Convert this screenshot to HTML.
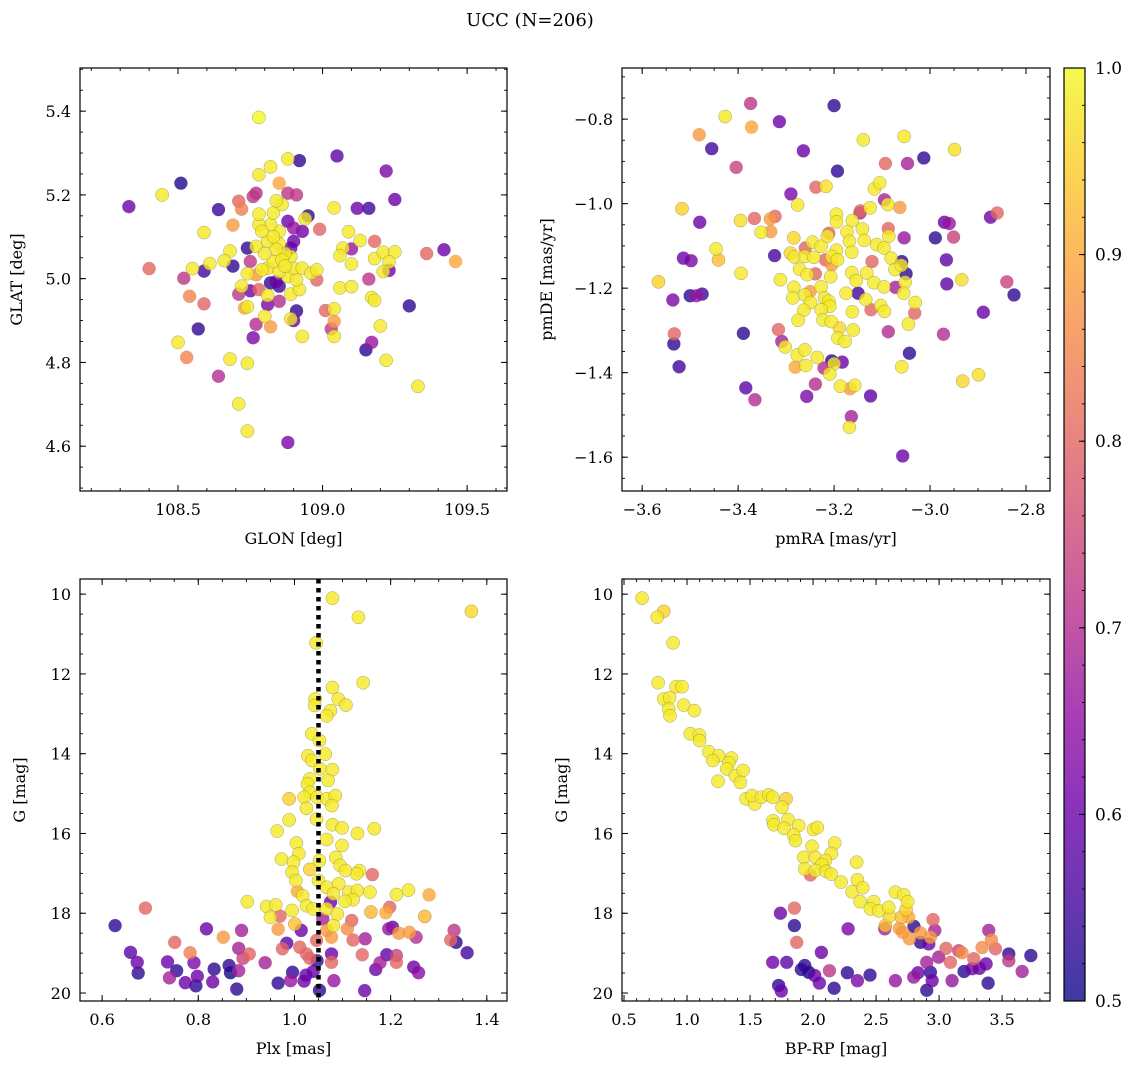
<!DOCTYPE html>
<html><head><meta charset="utf-8">
<style>
html,body{margin:0;padding:0;background:#fff;}
svg{display:block;font-family:"DejaVu Serif","Liberation Serif",serif;}
</style></head>
<body>
<svg id="fig" width="1136" height="1068" viewBox="0 0 1136 1068" xmlns="http://www.w3.org/2000/svg">
<text x="530" y="26" font-size="18" text-anchor="middle">UCC (N=206)</text>
</svg>
<script>
// ---------- DATA ----------
// panel 1: [GLON, GLAT, prob]
const posPoints = [
[108.78,5.385,1],[108.33,5.172,0.6],[108.445,5.20,0.98],[108.51,5.228,0.52],[108.40,5.024,0.8],[108.64,5.165,0.54],[108.59,5.11,0.98],[108.69,5.03,0.53],[108.59,5.018,0.55],[108.52,5.001,0.72],
[108.54,4.958,0.85],[108.59,4.94,0.8],[108.57,4.88,0.53],[108.50,4.848,0.98],[108.53,4.812,0.85],[108.64,4.767,0.7],[108.68,4.808,0.98],[108.74,4.798,0.98],[108.71,4.701,0.98],[108.74,4.636,0.98],
[108.88,4.609,0.62],[108.76,4.859,0.62],[108.77,4.891,0.7],[108.82,4.885,0.88],[108.80,4.91,0.98],[108.93,4.862,0.98],[108.89,4.904,0.98],[108.91,4.923,0.53],[108.90,4.90,0.6],[108.89,4.963,0.98],
[108.92,4.974,0.98],[108.81,4.96,0.98],[108.85,4.946,0.7],[108.81,4.938,0.62],[108.72,4.982,0.98],[108.71,4.963,0.72],[108.75,4.971,0.6],[108.74,4.933,0.98],[108.73,4.93,0.9],[108.78,4.974,0.8],
[108.82,4.99,0.53],[108.85,4.982,0.55],[108.84,4.993,0.6],[108.88,5.005,0.98],[108.91,4.997,0.98],[108.81,5.025,0.98],[108.85,5.017,0.98],[108.90,5.025,0.98],[108.79,5.021,0.98],[108.83,5.041,0.98],
[108.89,5.053,0.98],[108.93,5.025,0.98],[108.96,5.013,0.98],[108.98,5.021,0.98],[108.98,4.997,0.8],[108.74,5.012,0.98],[108.75,5.041,0.72],[108.77,5.009,0.88],[108.74,5.073,0.53],[108.77,5.077,0.98],
[108.81,5.089,0.98],[108.85,5.083,0.98],[108.89,5.073,0.6],[108.90,5.089,0.6],[108.90,5.121,0.66],[108.93,5.113,0.6],[108.88,5.137,0.6],[108.85,5.113,0.98],[108.82,5.129,0.98],[108.78,5.129,0.98],
[108.79,5.113,0.98],[108.78,5.154,0.98],[108.83,5.157,0.98],[108.86,5.177,0.98],[108.84,5.186,0.98],[108.85,5.228,0.9],[108.82,5.267,0.98],[108.78,5.248,0.98],[108.88,5.286,0.98],[108.92,5.282,0.53],
[109.05,5.293,0.58],[109.22,5.257,0.62],[109.25,5.189,0.6],[109.16,5.168,0.55],[109.12,5.168,0.6],[109.04,5.169,0.98],[108.88,5.204,0.72],[108.91,5.20,0.72],[108.77,5.204,0.7],[108.76,5.196,0.72],
[108.71,5.185,0.8],[108.72,5.166,0.84],[108.69,5.128,0.88],[108.68,5.066,0.98],[108.66,5.043,0.98],[108.61,5.036,0.98],[108.55,5.024,0.98],[108.95,5.15,0.53],[108.94,5.143,0.98],[108.99,5.118,0.8],
[109.09,5.112,0.98],[109.13,5.091,0.98],[109.18,5.089,0.8],[109.10,5.071,0.66],[109.07,5.073,0.98],[109.06,5.055,0.98],[109.10,5.035,0.98],[109.18,5.048,0.98],[109.21,5.063,0.98],[109.25,5.064,0.98],
[109.23,5.04,0.98],[109.23,5.02,0.6],[109.21,5.017,0.98],[109.36,5.06,0.8],[109.42,5.069,0.6],[109.46,5.041,0.9],[109.16,4.999,0.72],[109.06,4.978,0.98],[109.10,4.981,0.98],[109.17,4.955,0.98],
[109.18,4.948,0.98],[109.30,4.935,0.53],[109.01,4.924,0.8],[109.04,4.928,0.98],[109.04,4.898,0.88],[109.03,4.88,0.72],[109.04,4.862,0.98],[109.20,4.887,0.98],[109.17,4.848,0.66],[109.15,4.83,0.53],
[109.22,4.805,0.98],[109.33,4.743,0.98],[108.87,5.06,0.98],[108.84,5.07,0.98],[108.86,5.045,0.98],[108.80,5.06,0.98],[108.83,5.10,0.98],[108.87,5.03,0.98]
];
// panel 2: [pmRA, pmDE, prob]
const pmPoints = [
[-3.374,-0.763,0.72],[-3.20,-0.768,0.53],[-3.427,-0.794,0.98],[-3.372,-0.819,0.9],[-3.314,-0.806,0.6],[-3.481,-0.837,0.88],[-3.455,-0.87,0.55],[-3.264,-0.875,0.6],[-3.404,-0.914,0.74],[-3.193,-0.923,0.53],
[-3.139,-0.849,0.98],[-3.054,-0.841,0.98],[-2.949,-0.872,0.97],[-3.013,-0.892,0.53],[-3.093,-0.905,0.8],[-3.047,-0.905,0.68],[-3.238,-0.961,0.8],[-3.217,-0.959,0.97],[-3.29,-0.977,0.62],[-3.276,-1.003,0.98],
[-3.517,-1.012,0.95],[-3.48,-1.044,0.6],[-3.395,-1.04,0.97],[-3.366,-1.035,0.8],[-3.333,-1.036,0.88],[-3.323,-1.03,0.8],[-3.352,-1.068,0.98],[-3.332,-1.066,0.88],[-3.446,-1.107,0.98],[-3.441,-1.133,0.93],
[-3.514,-1.129,0.6],[-3.498,-1.135,0.62],[-3.566,-1.185,0.95],[-3.536,-1.228,0.62],[-3.50,-1.218,0.53],[-3.487,-1.218,0.66],[-3.475,-1.214,0.55],[-3.394,-1.165,0.98],[-3.324,-1.123,0.55],[-3.533,-1.308,0.8],
[-3.534,-1.332,0.53],[-3.523,-1.386,0.55],[-3.389,-1.307,0.53],[-3.384,-1.436,0.58],[-3.365,-1.464,0.7],[-3.316,-1.298,0.8],[-3.309,-1.326,0.68],[-3.302,-1.339,0.98],[-3.277,-1.358,0.98],[-3.261,-1.346,0.98],
[-3.281,-1.387,0.9],[-3.259,-1.383,0.98],[-3.235,-1.364,0.98],[-3.221,-1.389,0.7],[-3.205,-1.372,0.53],[-3.20,-1.379,0.98],[-3.183,-1.375,0.6],[-3.209,-1.403,0.98],[-3.239,-1.427,0.7],[-3.257,-1.456,0.62],
[-3.187,-1.432,0.98],[-3.167,-1.438,0.88],[-3.157,-1.43,0.98],[-3.124,-1.455,0.58],[-3.164,-1.504,0.68],[-3.168,-1.529,0.98],[-3.057,-1.597,0.6],[-3.059,-1.386,0.98],[-3.043,-1.354,0.53],[-2.932,-1.42,0.96],
[-2.899,-1.405,0.97],[-2.972,-1.309,0.7],[-2.889,-1.257,0.6],[-2.84,-1.185,0.74],[-2.825,-1.216,0.53],[-2.934,-1.18,0.97],[-2.965,-1.19,0.58],[-2.966,-1.133,0.58],[-2.989,-1.081,0.53],[-2.951,-1.079,0.74],
[-2.97,-1.044,0.6],[-2.96,-1.047,0.66],[-2.874,-1.032,0.6],[-2.86,-1.022,0.8],[-3.054,-1.081,0.66],[-3.032,-1.259,0.8],[-3.031,-1.234,0.98],[-3.045,-1.285,0.98],[-3.087,-1.303,0.7],[-3.05,-1.166,0.53],
[-3.059,-1.137,0.53],[-3.072,-1.198,0.68],[-3.123,-1.251,0.8],[-3.15,-1.212,0.55],[-3.121,-1.137,0.8],[-3.087,-1.059,0.8],[-3.095,-0.991,0.68],[-3.063,-1.009,0.88],[-3.145,-1.017,0.8],[-3.146,-1.022,0.68],
[-3.211,-1.07,0.8],[-3.26,-1.105,0.8],[-3.218,-1.133,0.8],[-3.205,-1.145,0.88],[-3.239,-1.166,0.8],[-3.25,-1.208,0.88],
[-3.195,-1.025,0.98],[-3.195,-1.043,0.98],[-3.162,-1.04,0.98],[-3.141,-1.06,0.98],[-3.116,-0.965,0.98],[-3.105,-0.951,0.98],[-3.125,-1.01,0.98],[-3.088,-1.002,0.98],[-3.173,-1.067,0.98],[-3.168,-1.089,0.98],
[-3.137,-1.087,0.98],[-3.111,-1.097,0.98],[-3.096,-1.105,0.98],[-3.086,-1.077,0.98],[-3.245,-1.091,0.98],[-3.227,-1.101,0.98],[-3.214,-1.077,0.98],[-3.195,-1.11,0.98],[-3.205,-1.125,0.98],[-3.193,-1.133,0.98],
[-3.163,-1.115,0.98],[-3.284,-1.081,0.96],[-3.283,-1.126,0.98],[-3.261,-1.125,0.98],[-3.242,-1.127,0.98],[-3.291,-1.117,0.96],[-3.312,-1.18,0.98],[-3.272,-1.155,0.98],[-3.256,-1.168,0.98],[-3.207,-1.173,0.98],
[-3.163,-1.163,0.98],[-3.154,-1.182,0.98],[-3.132,-1.164,0.98],[-3.117,-1.187,0.98],[-3.096,-1.197,0.98],[-3.081,-1.129,0.98],[-3.073,-1.156,0.98],[-3.06,-1.146,0.98],[-3.052,-1.186,0.98],[-3.055,-1.212,0.98],
[-3.284,-1.198,0.98],[-3.286,-1.223,0.98],[-3.261,-1.216,0.98],[-3.227,-1.197,0.98],[-3.249,-1.234,0.98],[-3.22,-1.223,0.98],[-3.211,-1.231,0.98],[-3.209,-1.243,0.98],[-3.263,-1.252,0.98],[-3.227,-1.251,0.98],
[-3.223,-1.275,0.98],[-3.206,-1.279,0.98],[-3.189,-1.294,0.96],[-3.192,-1.318,0.98],[-3.177,-1.326,0.98],[-3.162,-1.256,0.98],[-3.134,-1.227,0.98],[-3.103,-1.241,0.98],[-3.095,-1.255,0.98],[-3.275,-1.276,0.98],
[-3.16,-1.299,0.98],[-3.175,-1.212,0.98]
];
// panel 3: [Plx, G, prob]
const plxPoints = [
[1.079,10.10,0.98],[1.133,10.58,0.98],[1.368,10.43,0.96],[1.045,11.22,0.98],[1.143,12.22,0.98],[1.079,12.34,0.98],[1.091,12.63,0.98],[1.107,12.78,0.98],[1.043,12.63,0.98],[1.042,12.79,0.98],
[1.075,12.92,0.98],[1.067,13.05,0.98],[1.036,13.50,0.98],[1.052,13.67,0.98],[1.064,14.01,0.98],[1.028,14.05,0.98],[1.036,14.17,0.98],[1.053,14.38,0.98],[1.079,14.40,0.98],[1.070,14.67,0.98],
[1.032,14.63,0.98],[1.027,14.76,0.98],[1.032,14.97,0.98],[1.02,15.09,0.98],[1.047,15.09,0.98],[1.067,15.13,0.98],[1.085,15.05,0.98],[1.078,15.30,0.98],[0.989,15.13,0.95],[1.025,15.37,0.98],
[1.046,15.64,0.98],[0.989,15.66,0.98],[1.079,15.78,0.98],[1.099,15.86,0.98],[1.166,15.88,0.98],[1.131,16.00,0.98],[0.964,15.94,0.98],[1.004,16.24,0.98],[1.067,16.15,0.98],[1.099,16.30,0.98],
[0.973,16.64,0.98],[1.009,16.51,0.98],[0.998,16.72,0.98],[1.052,16.68,0.98],[1.086,16.60,0.98],[1.095,16.80,0.98],[1.032,16.90,0.95],[0.995,16.97,0.98],[1.135,16.93,0.98],[1.129,17.01,0.98],
[1.106,16.93,0.98],[1.003,17.18,0.98],[1.050,17.18,0.98],[1.092,17.26,0.98],[1.067,17.35,0.98],[1.006,17.45,0.9],[1.017,17.56,0.98],[1.081,17.51,0.98],[1.113,17.47,0.98],[1.131,17.43,0.98],
[1.157,17.47,0.98],[1.122,17.66,0.98],[1.105,17.70,0.98],[1.212,17.53,0.98],[1.237,17.42,0.98],[1.28,17.54,0.9],[0.902,17.71,0.98],[0.942,17.83,0.98],[0.961,17.79,0.98],[0.95,18.10,0.98],
[0.995,17.93,0.98],[1.025,17.81,0.98],[1.039,17.89,0.98],[1.067,17.89,0.98],[1.089,18.02,0.98],[1.081,18.31,0.98],[1.159,17.97,0.92],[1.19,17.99,0.9],[1.271,18.08,0.92],[1.162,17.03,0.8],
[0.69,17.87,0.8],[0.627,18.31,0.53],[0.817,18.39,0.6],[0.852,18.60,0.88],[0.89,18.43,0.68],[0.751,18.73,0.8],[0.783,18.99,0.84],[0.659,18.98,0.58],[0.673,19.23,0.6],[0.675,19.50,0.53],
[0.736,19.22,0.6],[0.755,19.44,0.53],[0.74,19.62,0.68],[0.791,19.24,0.62],[0.798,19.58,0.6],[0.773,19.74,0.6],[0.795,19.82,0.53],[0.83,19.72,0.6],[0.833,19.40,0.53],[0.864,19.31,0.53],
[0.867,19.49,0.5],[0.884,19.44,0.68],[0.884,18.88,0.68],[0.906,19.02,0.8],[0.893,19.13,0.74],[0.88,19.90,0.53],[0.939,19.24,0.68],[0.97,18.07,0.8],[0.966,18.40,0.88],[0.975,18.89,0.8],
[0.984,18.75,0.58],[1.001,18.27,0.93],[1.014,18.43,0.6],[1.011,18.85,0.8],[1.025,19.02,0.8],[1.032,19.13,0.8],[1.046,18.68,0.8],[1.047,19.19,0.53],[0.996,19.48,0.53],[0.992,19.69,0.66],
[1.02,19.70,0.6],[1.024,19.55,0.6],[1.039,19.46,0.6],[0.966,19.75,0.53],[1.052,19.93,0.53],[1.077,19.02,0.6],[1.077,19.23,0.8],[1.067,18.43,0.88],[1.077,18.60,0.88],[1.082,19.69,0.66],
[1.075,17.72,0.6],[1.059,18.14,0.68],[1.11,18.39,0.86],[1.119,18.18,0.8],[1.122,18.67,0.8],[1.147,18.64,0.68],[1.141,19.04,0.8],[1.146,19.94,0.6],[1.169,19.41,0.6],[1.178,19.24,0.68],
[1.192,19.04,0.58],[1.212,19.06,0.74],[1.212,19.23,0.8],[1.198,17.85,0.8],[1.196,18.39,0.66],[1.204,18.35,0.58],[1.217,18.50,0.88],[1.239,18.48,0.88],[1.253,18.60,0.7],[1.248,19.35,0.6],
[1.258,19.49,0.64],[1.332,18.43,0.72],[1.325,18.67,0.8],[1.336,18.73,0.53],[1.359,18.99,0.55]
];
// panel 4: [BP-RP, G, prob]
const cmdPoints = [
[0.643,10.10,0.98],[0.815,10.43,0.95],[0.764,10.58,0.98],[0.889,11.22,0.98],[0.77,12.22,0.98],[0.913,12.32,0.98],[0.96,12.32,0.98],[0.815,12.63,0.98],[0.862,12.60,0.98],[0.854,12.88,0.98],
[0.865,13.05,0.98],[0.973,12.78,0.98],[1.058,12.92,0.98],[1.026,13.50,0.98],[1.098,13.53,0.98],[1.10,13.67,0.98],[1.172,13.95,0.98],[1.251,14.05,0.98],[1.204,14.17,0.98],[1.352,14.11,0.98],
[1.331,14.23,0.98],[1.315,14.38,0.98],[1.246,14.69,0.98],[1.383,14.55,0.98],[1.444,14.42,0.98],[1.423,14.72,0.98],[1.468,15.13,0.98],[1.537,15.26,0.98],[1.516,15.05,0.98],[1.59,15.09,0.98],
[1.648,15.03,0.98],[1.68,15.09,0.98],[1.786,15.13,0.95],[1.754,15.34,0.98],[1.682,15.68,0.98],[1.69,15.78,0.98],[1.801,15.65,0.98],[1.77,15.87,0.98],[1.886,15.80,0.98],[1.846,16.04,0.98],
[1.86,16.18,0.98],[2.003,15.90,0.98],[2.034,15.85,0.98],[1.992,16.32,0.98],[2.172,16.24,0.98],[2.145,16.50,0.98],[1.926,16.60,0.98],[2.018,16.60,0.98],[2.098,16.68,0.98],[2.071,16.78,0.98],
[1.934,16.89,0.98],[2.018,16.93,0.98],[2.103,16.95,0.98],[2.145,17.02,0.98],[2.346,16.72,0.98],[2.222,17.22,0.98],[2.31,17.46,0.98],[2.352,17.16,0.98],[2.394,17.36,0.98],[2.373,17.71,0.98],
[2.481,17.71,0.98],[2.455,17.89,0.98],[2.521,17.94,0.98],[2.60,17.85,0.98],[2.653,17.47,0.98],[2.72,17.54,0.98],[2.751,17.71,0.98],[2.738,17.91,0.95],[2.606,18.07,0.96],[2.701,18.10,0.93],
[2.574,18.31,0.93],[2.759,18.10,0.9],[2.685,18.38,0.88],[2.712,18.48,0.88],[2.765,18.64,0.88],[2.852,18.49,0.88],[2.931,18.60,0.88],[2.952,18.16,0.8],[2.966,18.43,0.68],[2.801,18.33,0.53],
[2.852,18.73,0.53],[2.918,18.77,0.6],[2.569,18.39,0.68],[1.979,17.04,0.8],[1.852,17.87,0.8],[1.741,18.00,0.6],[1.852,18.31,0.53],[1.87,18.73,0.8],[2.278,18.39,0.62],[2.066,18.98,0.6],
[1.68,19.23,0.6],[1.791,19.23,0.58],[1.934,19.31,0.53],[1.907,19.41,0.53],[1.966,19.48,0.5],[2.013,19.56,0.6],[2.05,19.75,0.6],[2.13,19.44,0.72],[2.272,19.49,0.53],[2.352,19.69,0.62],
[2.452,19.55,0.53],[2.167,19.88,0.53],[1.727,19.81,0.53],[1.748,19.95,0.6],[2.653,19.69,0.66],[2.799,19.60,0.66],[2.833,19.49,0.6],[2.902,19.23,0.68],[2.931,19.48,0.53],[2.945,19.69,0.6],
[2.902,19.93,0.53],[3.103,19.69,0.66],[2.997,19.10,0.68],[3.055,18.88,0.8],[3.09,19.23,0.8],[3.156,18.94,0.74],[3.182,18.99,0.86],[3.198,19.46,0.53],[3.262,19.39,0.6],[3.275,19.14,0.8],
[3.32,19.38,0.6],[3.341,18.86,0.86],[3.373,19.27,0.6],[3.389,19.75,0.53],[3.394,18.43,0.68],[3.415,18.67,0.86],[3.447,18.89,0.8],[3.553,19.02,0.53],[3.553,19.19,0.72],[3.659,19.46,0.68],
[3.728,19.06,0.53]
];
const plxMarker = [1.05];
const cbTicks = ["0.5","0.6","0.7","0.8","0.9","1.0"];
const p1XTicks = [108.5,109.0,109.5], p1YTicks = [4.6,4.8,5.0,5.2,5.4];
const p2XTicks = [-3.6,-3.4,-3.2,-3.0,-2.8], p2YTicks = [-1.6,-1.4,-1.2,-1.0,-0.8];
const p3XTicks = [0.6,0.8,1.0,1.2,1.4], gTicks = [10,12,14,16,18,20];
const p4XTicks = [0.5,1.0,1.5,2.0,2.5,3.0,3.5];

// ---------- RENDERING ----------
const NS = "http://www.w3.org/2000/svg";
const svg = document.getElementById('fig');
function mk(tag, attrs, parent){ const e=document.createElementNS(NS,tag); for(const k in attrs) e.setAttribute(k,attrs[k]); (parent||svg).appendChild(e); return e; }
const stops=[[0,[13,8,135]],[0.1,[65,4,157]],[0.2,[106,0,168]],[0.3,[143,13,164]],[0.4,[177,42,144]],[0.5,[204,71,120]],[0.6,[225,100,98]],[0.7,[242,132,75]],[0.8,[252,166,54]],[0.9,[252,206,37]],[1,[240,249,33]]];
function plasma(t){ t=Math.max(0,Math.min(1,t)); for(let i=1;i<stops.length;i++){ if(t<=stops[i][0]){ const a=stops[i-1],b=stops[i],f=(t-a[0])/(b[0]-a[0]); const c=a[1].map((v,j)=>Math.round(v+(b[1][j]-v)*f)); return `rgb(${c[0]},${c[1]},${c[2]})`; } } return 'rgb(240,249,33)'; }
function pcol(p){ return plasma((p-0.5)/0.5); }
function fmt(v,d){ const s=Math.abs(v).toFixed(d); return (v<0?'\u2212':'')+s; }
const FS=16;

function panel(o){
  const g=mk('g',{});  
  const sx=v=>o.x0+(v-o.xmin)/(o.xmax-o.xmin)*(o.x1-o.x0);
  const sy=o.yinv? v=>o.y0+(v-o.ymin)/(o.ymax-o.ymin)*(o.y1-o.y0) : v=>o.y1-(v-o.ymin)/(o.ymax-o.ymin)*(o.y1-o.y0);
  const pg=mk('g',{},g);  
  const pts=o.pts.slice().sort((a,b)=>a[2]-b[2]);
  pts.forEach(d=>{ const c=mk('circle',{cx:sx(d[0]),cy:sy(d[1]),r:6.6,fill:pcol(d[2]),'fill-opacity':0.8,stroke:'#555','stroke-opacity':d[2]>0.9?0.5:0.15,'stroke-width':0.5},pg);
      });
  if(o.vline){ o.vline.forEach(v=>{ const l=mk('line',{x1:sx(v),x2:sx(v),y1:o.y0,y2:o.y1,stroke:'#000','stroke-width':4.5,'stroke-dasharray':'4.5,4.5'},g);   }); }
  const fr=mk('rect',{x:o.x0,y:o.y0,width:o.x1-o.x0,height:o.y1-o.y0,fill:'none',stroke:'#000','stroke-width':1.2},g);
   
  for(let v=Math.ceil(o.xmin/o.xminor-1e-9)*o.xminor; v<=o.xmax; v+=o.xminor){ const x=sx(v); mk('line',{x1:x,x2:x,y1:o.y1,y2:o.y1-3,stroke:'#000','stroke-width':0.9},g); mk('line',{x1:x,x2:x,y1:o.y0,y2:o.y0+3,stroke:'#000','stroke-width':0.9},g); }
  for(let v=Math.ceil(o.ymin/o.yminor-1e-9)*o.yminor; v<=o.ymax; v+=o.yminor){ const y=sy(v); mk('line',{x1:o.x0,x2:o.x0+3,y1:y,y2:y,stroke:'#000','stroke-width':0.9},g); mk('line',{x1:o.x1,x2:o.x1-3,y1:y,y2:y,stroke:'#000','stroke-width':0.9},g); }
  o.xt.forEach(v=>{ const x=sx(v); mk('line',{x1:x,x2:x,y1:o.y1,y2:o.y1-6,stroke:'#000','stroke-width':1},g); mk('line',{x1:x,x2:x,y1:o.y0,y2:o.y0+6,stroke:'#000','stroke-width':1},g);
    const t=mk('text',{x:x,y:o.y1+24,'font-size':FS,'text-anchor':'middle'},g); t.textContent=fmt(v,o.xd);   });
  o.yt.forEach(v=>{ const y=sy(v); mk('line',{x1:o.x0,x2:o.x0+6,y1:y,y2:y,stroke:'#000','stroke-width':1},g); mk('line',{x1:o.x1,x2:o.x1-6,y1:y,y2:y,stroke:'#000','stroke-width':1},g);
    const t=mk('text',{x:o.x0-9,y:y+6,'font-size':FS,'text-anchor':'end'},g); t.textContent=fmt(v,o.yd);   });
  const xl=mk('text',{x:(o.x0+o.x1)/2,y:o.y1+53,'font-size':FS,'text-anchor':'middle'},g); xl.textContent=o.xlab;  
  const yc=(o.y0+o.y1)/2, yx=o.x0-o.ylabOff;
  const yl=mk('text',{x:yx,y:yc,'font-size':FS,'text-anchor':'middle',transform:`rotate(-90 ${yx} ${yc})`},g); yl.textContent=o.ylab;  
}
panel({name:'glon-glat-panel',x0:80,x1:507,y0:68,y1:491,xmin:108.161,xmax:109.638,ymin:4.493,ymax:5.503,xminor:0.1,yminor:0.05,xt:p1XTicks,yt:p1YTicks,xd:1,yd:1,xlab:'GLON [deg]',ylab:'GLAT [deg]',ylabOff:58,pts:posPoints});
panel({name:'proper-motion-panel',x0:622,x1:1050,y0:68,y1:491,xmin:-3.642,xmax:-2.75,ymin:-1.68,ymax:-0.679,xminor:0.05,yminor:0.05,xt:p2XTicks,yt:p2YTicks,xd:1,yd:1,xlab:'pmRA [mas/yr]',ylab:'pmDE [mas/yr]',ylabOff:70,pts:pmPoints});
panel({name:'parallax-mag-panel',x0:80,x1:507,y0:579,y1:1001,xmin:0.554,xmax:1.442,ymin:9.62,ymax:20.2,yinv:true,xminor:0.05,yminor:0.5,xt:p3XTicks,yt:gTicks,xd:1,yd:0,xlab:'Plx [mas]',ylab:'G [mag]',ylabOff:55,pts:plxPoints,vline:plxMarker});
panel({name:'cmd-panel',x0:622,x1:1050,y0:579,y1:1001,xmin:0.484,xmax:3.88,ymin:9.62,ymax:20.2,yinv:true,xminor:0.1,yminor:0.5,xt:p4XTicks,yt:gTicks,xd:1,yd:0,xlab:'BP-RP [mag]',ylab:'G [mag]',ylabOff:55,pts:cmdPoints});

const cb=mk('g',{});  
const defs=mk('defs',{},cb); const lg=mk('linearGradient',{id:'cbg',x1:0,y1:1,x2:0,y2:0},defs);
for(let i=0;i<=20;i++){ mk('stop',{offset:i/20,'stop-color':plasma(i/20),'stop-opacity':0.8},lg); }
const cx0=1064,cx1=1085,cy0=68,cy1=1001;
const r=mk('rect',{x:cx0,y:cy0,width:cx1-cx0,height:cy1-cy0,fill:'url(#cbg)',stroke:'#000','stroke-width':1.2},cb);  
const cyv=v=>cy1-(v-0.5)/0.5*(cy1-cy0);
for(let i=0;i<=25;i++){ const y=cyv(0.5+i*0.02); mk('line',{x1:cx1,x2:cx1-3,y1:y,y2:y,stroke:'#000','stroke-width':0.9},cb); }
cbTicks.forEach(s=>{ const y=cyv(parseFloat(s)); mk('line',{x1:cx1,x2:cx1-6,y1:y,y2:y,stroke:'#000','stroke-width':1},cb);
  const t=mk('text',{x:cx1+10,y:y+6,'font-size':17},cb); t.textContent=s;   });
</script>
</body></html>
